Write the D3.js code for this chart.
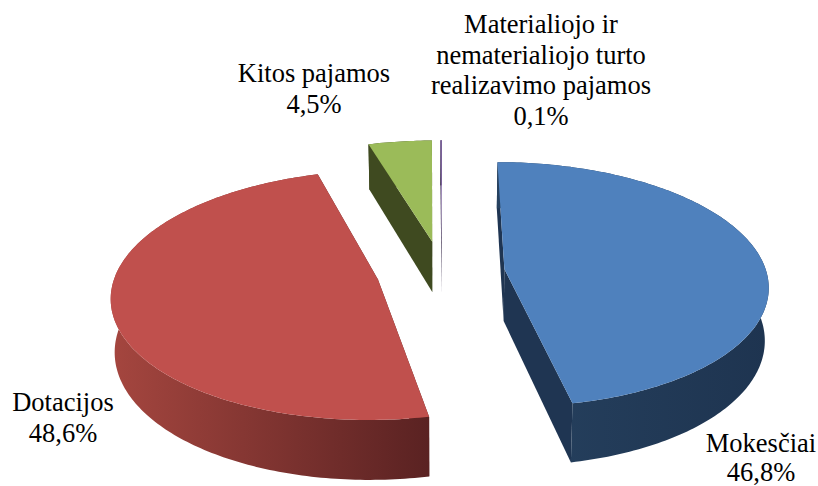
<!DOCTYPE html>
<html>
<head>
<meta charset="utf-8">
<script src="https://d3js.org/d3.v7.min.js"></script>
<style>
  html, body { margin: 0; padding: 0; background: #fff; }
  svg text { font-family: "Liberation Serif", "Times New Roman", Times, serif; font-size: 26.5px; fill: #000; }
</style>
</head>
<body>
<svg id="chart" width="818" height="486"></svg>
<script>
const categories = ["Mokesčiai", "Dotacijos", "Kitos pajamos", "Materialiojo ir nematerialiojo turto realizavimo pajamos"];
const shares = [46.8, 48.6, 4.5, 0.1];
const shareLabels = ["46,8%", "48,6%", "4,5%", "0,1%"];
const explode = [0.24, 0.25, 0.26, 0.26];
const topColors = ["#4f81bd", "#c0504d", "#9bbb59", "#8064a2"];
const cutColors = ["#1f3552", "#5a2320", "#3f4a20", "#3a2d4c"];
const wallStops = [
  ["#26415f", "#1e3450"],
  ["#a5463f", "#5a2222"],
  ["#3f4a20", "#3f4a20"],
  ["#3a2d4c", "#3a2d4c"]
];
const labelLines = [
  ["Mokesčiai"],
  ["Dotacijos"],
  ["Kitos pajamos"],
  ["Materialiojo ir", "nematerialiojo turto", "realizavimo pajamos"]
];
const labelPos = [[761, 452], [63, 411], [314, 82], [541, 33]];
const labelGap = [29, 30.5, 30.5, 30.5];

const svg = d3.select("#chart");

// perspective of the tilted pie
const cx = 442, cy = 272, rx = 262, ry = 121, dist = 8, depth = 52;

function project(x, y, z) {
  var w = 1 / (1 + y / dist);
  var shrink = 1 - 0.012 * z;
  return [cx + rx * x * w * shrink, cy - ry * y * w + z * depth * w];
}

const arcs = d3.pie().sort(null).value(d => d)(shares);
const line = d3.line();
const defs = svg.append("defs");

function slicePoints(a, i) {
  var mid = (a.startAngle + a.endAngle) / 2;
  var ox = Math.sin(mid) * explode[i], oy = Math.cos(mid) * explode[i];
  var n = Math.max(2, Math.ceil((a.endAngle - a.startAngle) * 60));
  var rim = d3.range(n + 1).map(k => {
    var t = a.startAngle + (a.endAngle - a.startAngle) * k / n;
    return [ox + Math.sin(t), oy + Math.cos(t)];
  });
  return { apex: [ox, oy], rim: rim };
}

// back slices first so the nearer ones sit on top
[3, 2, 1, 0].forEach(i => {
  var s = slicePoints(arcs[i], i);
  var g = svg.append("g").attr("class", "slice");

  var upper = s.rim.map(p => project(p[0], p[1], 0));
  var lower = s.rim.map(p => project(p[0], p[1], 1));
  var apexUp = project(s.apex[0], s.apex[1], 0);
  var apexLow = project(s.apex[0], s.apex[1], 1);

  // cut faces
  [0, s.rim.length - 1].forEach(k => {
    g.append("path")
      .attr("d", line([apexUp, upper[k], lower[k], apexLow]) + "Z")
      .attr("fill", cutColors[i]);
  });

  // outer wall
  var xs = upper.concat(lower).map(p => p[0]);
  var id = "wall" + i;
  var grad = defs.append("linearGradient").attr("id", id)
    .attr("gradientUnits", "userSpaceOnUse")
    .attr("x1", d3.min(xs)).attr("x2", d3.max(xs)).attr("y1", 0).attr("y2", 0);
  grad.append("stop").attr("offset", 0).attr("stop-color", wallStops[i][0]);
  grad.append("stop").attr("offset", 1).attr("stop-color", wallStops[i][1]);
  g.append("path")
    .attr("d", line(upper.concat(lower.slice().reverse())) + "Z")
    .attr("fill", "url(#" + id + ")");

  // top face
  g.append("path")
    .attr("d", line([apexUp].concat(upper)) + "Z")
    .attr("fill", topColors[i]);
});

labelLines.forEach((lines, i) => {
  var t = svg.append("text").attr("text-anchor", "middle");
  lines.concat(shareLabels[i]).forEach((l, k) => {
    t.append("tspan")
      .attr("x", labelPos[i][0])
      .attr("y", labelPos[i][1] + k * labelGap[i])
      .text(l);
  });
});
</script>
</body>
</html>
